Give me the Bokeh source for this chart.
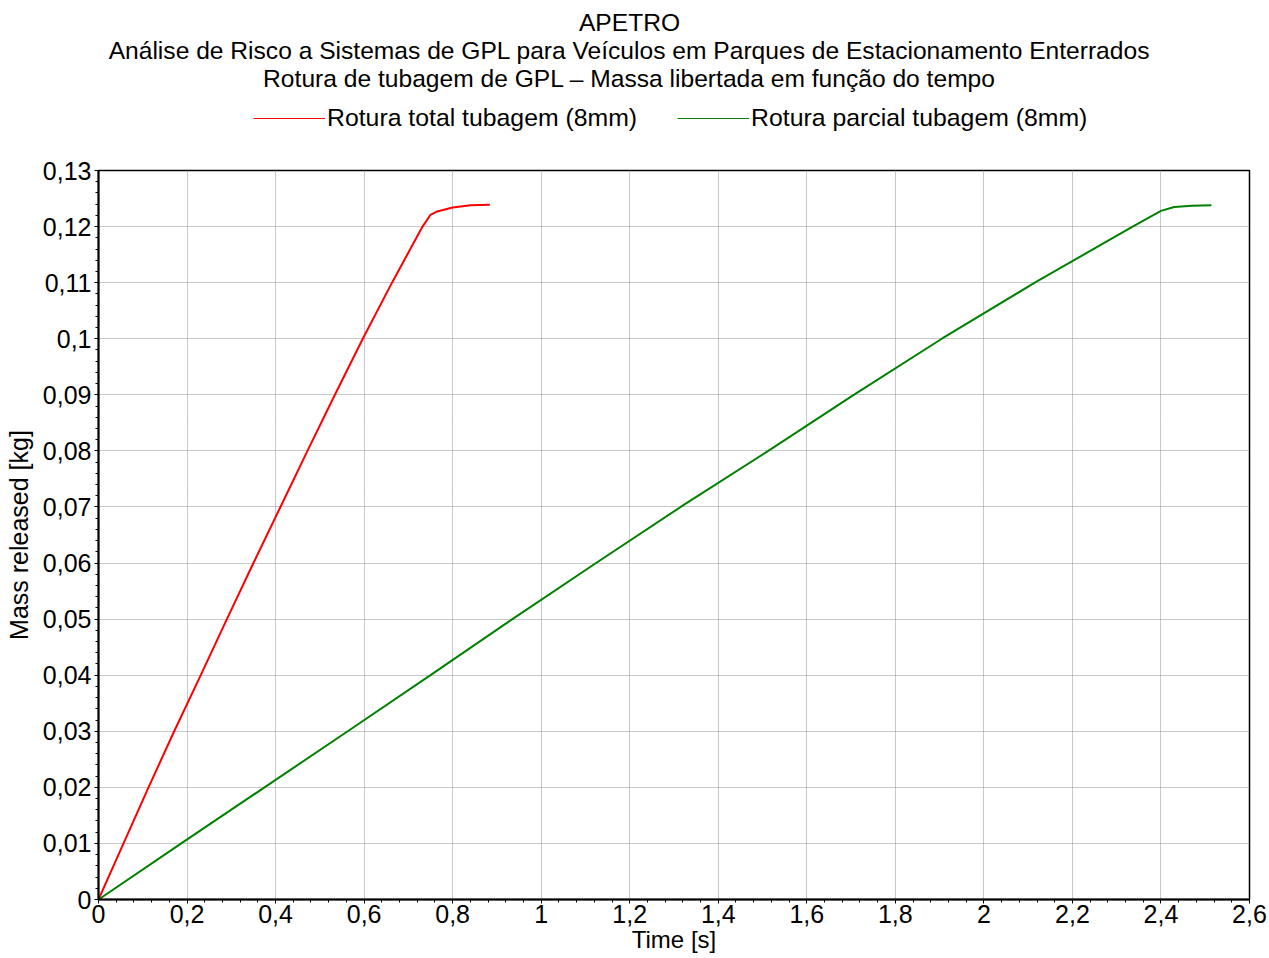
import numpy as np
from bokeh.plotting import figure
from bokeh.layouts import column
from bokeh.models import (Range1d, FixedTicker, Label, Legend, LegendItem,
                          CustomJSTickFormatter)
from bokeh.embed import file_html
from bokeh.resources import INLINE

# ---- data ----
red_t = [0, 0.0565, 0.113, 0.171, 0.231, 0.290, 0.350, 0.411, 0.472, 0.534,
         0.597, 0.663, 0.732, 0.750, 0.765, 0.80, 0.84, 0.884]
red_m = [0, 0.01, 0.02, 0.03, 0.04, 0.05, 0.06, 0.07, 0.08, 0.09,
         0.10, 0.11, 0.12, 0.1221, 0.1227, 0.1234, 0.1238, 0.1239]

green_t = [0, 0.187, 0.375, 0.563, 0.750, 0.935, 1.124, 1.315, 1.513, 1.706,
           1.905, 2.115, 2.336, 2.40, 2.43, 2.47, 2.514]
green_m = [0, 0.01, 0.02, 0.03, 0.04, 0.05, 0.06, 0.07, 0.08, 0.09,
           0.10, 0.11, 0.12, 0.1228, 0.1235, 0.1237, 0.1238]

series_names = ["Rotura total tubagem (8mm)", "Rotura parcial tubagem (8mm)"]
series_colors = ["#ff0000", "#008000"]

x_ticks = [0, 0.2, 0.4, 0.6, 0.8, 1, 1.2, 1.4, 1.6, 1.8, 2, 2.2, 2.4, 2.6]
x_tick_labels = ["0", "0,2", "0,4", "0,6", "0,8", "1", "1,2", "1,4", "1,6",
                 "1,8", "2", "2,2", "2,4", "2,6"]
y_ticks = [0, 0.01, 0.02, 0.03, 0.04, 0.05, 0.06, 0.07, 0.08, 0.09, 0.1,
           0.11, 0.12, 0.13]
y_tick_labels = ["0", "0,01", "0,02", "0,03", "0,04", "0,05", "0,06", "0,07",
                 "0,08", "0,09", "0,1", "0,11", "0,12", "0,13"]

title_lines = ["APETRO",
               "Análise de Risco a Sistemas de GPL para Veículos em Parques de Estacionamento Enterrados",
               "Rotura de tubagem de GPL – Massa libertada em função do tempo"]
x_label = "Time [s]"
y_label = "Mass released [kg]"

FONT = "Liberation Sans"
W = 1269
HEAD_H = 150
FL, FR = 98, 1249   # frame left / right in page pixels (shared by both figures)

# ---------------- header: titles + legend ----------------
h = figure(width=W, height=HEAD_H, output_backend="svg", toolbar_location=None,
           title=None, x_range=Range1d(FL, FR), y_range=Range1d(HEAD_H, 0),
           x_axis_type=None, y_axis_type=None, min_border=0,
           min_border_left=FL, min_border_right=W - FR)
h.outline_line_color = None
h.background_fill_color = "white"
h.border_fill_color = "white"

for txt, yy in zip(title_lines, [22, 50, 78]):
    h.add_layout(Label(x=629, y=yy, text=txt, text_align="center",
                       text_baseline="middle", text_font=FONT,
                       text_font_size="24.6px", text_color="black"))

# legend-key renderers (same series; they fall outside the header's range)
k1 = h.line(red_t, red_m, line_color=series_colors[0], line_width=1.2)
k2 = h.line(green_t, green_m, line_color=series_colors[1], line_width=1.2)
legend = Legend(items=[LegendItem(label=series_names[0], renderers=[k1]),
                       LegendItem(label=series_names[1], renderers=[k2])],
                orientation="horizontal", location=(253 - FL, HEAD_H - 132),
                glyph_width=72, glyph_height=28, label_height=28,
                label_standoff=2, spacing=40, padding=0, margin=0,
                border_line_alpha=0, background_fill_alpha=0,
                label_text_font=FONT, label_text_font_size="24.8px",
                label_text_color="black")
h.add_layout(legend)

# ---------------- main chart ----------------
p = figure(width=W, height=958 - HEAD_H, output_backend="svg",
           toolbar_location=None, title=None,
           x_range=Range1d(0, 2.6), y_range=Range1d(0, 0.13),
           min_border_left=FL, min_border_right=W - FR,
           min_border_top=170 - HEAD_H, min_border_bottom=59)

p.background_fill_color = "white"
p.border_fill_color = "white"
p.outline_line_color = "black"
p.outline_line_width = 1.5

p.line(red_t, red_m, line_color=series_colors[0], line_width=2)
p.line(green_t, green_m, line_color=series_colors[1], line_width=2)

x_minor = [round(v, 3) for v in np.arange(0, 2.6001, 0.04)]
y_minor = [round(v, 4) for v in np.arange(0, 0.13001, 0.002)]
p.xaxis.ticker = FixedTicker(ticks=x_ticks, minor_ticks=x_minor)
p.yaxis.ticker = FixedTicker(ticks=y_ticks, minor_ticks=y_minor)
p.xaxis.formatter = CustomJSTickFormatter(
    args=dict(t=x_ticks, l=x_tick_labels),
    code="const i = t.indexOf(tick); return i >= 0 ? l[i] : '';")
p.yaxis.formatter = CustomJSTickFormatter(
    args=dict(t=y_ticks, l=y_tick_labels),
    code="const i = t.indexOf(tick); return i >= 0 ? l[i] : '';")

for ax in (p.xaxis, p.yaxis):
    ax.axis_line_color = "black"
    ax.axis_line_width = 2
    ax.major_tick_line_color = "black"
    ax.minor_tick_line_color = "black"
    ax.major_tick_in = 0
    ax.major_tick_out = 4
    ax.minor_tick_in = 0
    ax.minor_tick_out = 3
    ax.major_label_text_font = FONT
    ax.major_label_text_font_size = "25px"
    ax.major_label_text_color = "black"
    ax.axis_label_text_font = FONT
    ax.axis_label_text_font_style = "normal"
    ax.axis_label_text_color = "black"

p.xaxis.major_label_standoff = 1
p.xaxis.axis_label = x_label
p.xaxis.axis_label_text_font_size = "24px"
p.xaxis.axis_label_standoff = 0
p.yaxis.major_label_standoff = 3
p.yaxis.axis_label = y_label
p.yaxis.axis_label_text_font_size = "25px"
p.yaxis.axis_label_standoff = 7

p.grid.grid_line_color = "#909090"
p.grid.grid_line_dash = "1 1"
p.grid.grid_line_width = 1

layout = column(h, p, spacing=0)
open("out.html", "w").write(file_html(layout, INLINE))
